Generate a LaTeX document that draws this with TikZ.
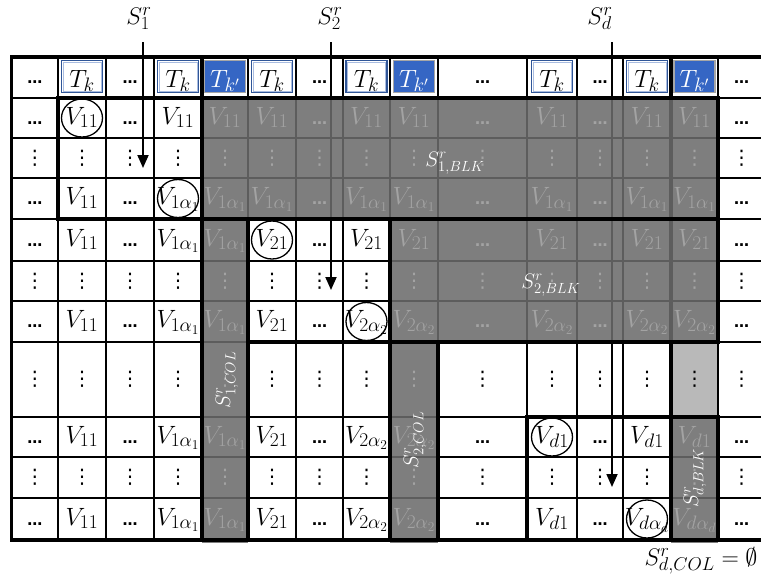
\RequirePackage{fix-cm}
\documentclass[tikz,border=0pt]{standalone}
\usepackage{fontspec}
\newfontfamily\djv{DejaVu Sans}
\DeclareMathSizes{25}{25}{19.5}{13.5}
\DeclareMathSizes{24}{24}{18.5}{13}
\usetikzlibrary{arrows.meta,calc}
\definecolor{tkblue}{HTML}{2F5597}
\definecolor{tkinner}{HTML}{A9BCE0}
\definecolor{tkfill}{HTML}{3566C4}
\definecolor{tkgray}{HTML}{A6A6A6}
\definecolor{ovl}{gray}{0.42}
\definecolor{gtext}{HTML}{A3A3A3}
\definecolor{lgray}{HTML}{B9B9B9}
\newcommand\hd{{\djv\bfseries\fontsize{15}{15}\selectfont …}}
\newcommand\vd{{\djv\fontsize{20}{20}\selectfont ⋮}}
\newcommand\txd{\hd}
\newcommand\txv{\vd}
\newcommand\txA{$V_{11}$}
\newcommand\txB{$V_{1\alpha_1}$}
\newcommand\txC{$V_{21}$}
\newcommand\txD{$V_{2\alpha_2}$}
\newcommand\txE{$V_{d1}$}
\newcommand\txF{$V_{d\alpha_d}$}
\def\XS{{11.5,58,106,154,202,248,296,343,390,438,527,577,623,671,718,765}}
\def\YS{{57,98,138,178,219,261,301,342,417,457,498,540}}
\def\LstA{d/0,A/2,d/0,A/0,A/1,A/1,d/1,A/1,A/1,d/1,A/1,d/1,A/1,A/1,d/0}
\def\LstB{v/0,v/0,v/0,v/0,v/1,v/1,v/1,v/1,v/1,v/1,v/1,v/1,v/1,v/1,v/0}
\def\LstC{d/0,A/0,d/0,B/2,B/1,B/1,d/1,B/1,B/1,d/1,B/1,d/1,B/1,B/1,d/0}
\def\LstD{d/0,A/0,d/0,B/0,B/1,C/2,d/0,C/0,C/1,d/1,C/1,d/1,C/1,C/1,d/0}
\def\LstE{v/0,v/0,v/0,v/0,v/1,v/0,v/0,v/0,v/1,v/1,v/1,v/1,v/1,v/1,v/0}
\def\LstF{d/0,A/0,d/0,B/0,B/1,C/0,d/0,D/2,D/1,d/1,D/1,d/1,D/1,D/1,d/0}
\def\LstG{v/0,v/0,v/0,v/0,v/1,v/0,v/0,v/0,v/1,v/0,v/0,v/0,v/0,v/0,v/0}
\def\LstH{d/0,A/0,d/0,B/0,B/1,C/0,d/0,D/0,D/1,d/0,E/2,d/0,E/0,E/1,d/0}
\def\LstI{v/0,v/0,v/0,v/0,v/1,v/0,v/0,v/0,v/1,v/0,v/0,v/0,v/0,v/1,v/0}
\def\LstJ{d/0,A/0,d/0,B/0,B/1,C/0,d/0,D/0,D/1,d/0,E/0,d/0,F/2,F/1,d/0}
\newcommand\colmid[1]{%
  \pgfmathtruncatemacro\cn{#1+1}%
  \pgfmathsetmacro\xa{\XS[#1]}%
  \pgfmathsetmacro\xb{\XS[\cn]}%
  \pgfmathsetmacro\cx{(\xa+\xb)/2}}
\newcommand\rowmid[1]{%
  \pgfmathtruncatemacro\rn{#1+1}%
  \pgfmathsetmacro\ya{\YS[#1]}%
  \pgfmathsetmacro\yb{\YS[\rn]}%
  \pgfmathsetmacro\cy{(\ya+\yb)/2}}
\newcommand\cellrow[3]{%
  \foreach \t/\k [count=\c from 0] in #2 {%
    \colmid{\c}\rowmid{#1}%
    \ifnum#3=1 \ifnum\k=1 \else
      \node[ctext] (n#1-\c) at (\cx,\cy+6) {\csname tx\t\endcsname};
      \ifnum\k=2 \draw[circ] (\cx,\cy) ellipse [x radius=20.5pt,y radius=19pt];\fi
    \fi\fi
    \ifnum#3=2 \ifnum\k=1
      \node[ctext,text=gtext] (n#1-\c) at (\cx,\cy+6) {\csname tx\t\endcsname};
    \fi\fi
  }}
\newcommand\allrows[1]{%
  \cellrow{1}{\LstA}{#1}\cellrow{2}{\LstB}{#1}\cellrow{3}{\LstC}{#1}%
  \cellrow{4}{\LstD}{#1}\cellrow{5}{\LstE}{#1}\cellrow{6}{\LstF}{#1}%
  \cellrow{7}{\LstG}{#1}\cellrow{8}{\LstH}{#1}\cellrow{9}{\LstI}{#1}%
  \cellrow{10}{\LstJ}{#1}}
\begin{document}
\begin{tikzpicture}[x=1pt,y=-1pt,
  gridline/.style={line width=1.1pt,black},
  bigline/.style={line width=3.8pt,black,line cap=rect},
  arr/.style={line width=1.8pt,-{Triangle[width=11pt,length=13pt]}},
  circ/.style={line width=1.3pt,black},
  ctext/.style={anchor=base,inner sep=0pt,font=\fontsize{25}{29}\selectfont},
  lab/.style={inner sep=0pt,font=\fontsize{24}{28}\selectfont},
  slab/.style={inner sep=0pt,text=white,font=\fontsize{21}{25}\selectfont},
  tkbox/.style={draw=tkblue,line width=1.6pt,fill=white,minimum width=41pt,minimum height=32pt,inner sep=0pt},
  tkpbox/.style={draw=tkgray,line width=1.6pt,fill=tkfill,minimum width=41pt,minimum height=32pt,inner sep=0pt},
  ovfill/.style={fill=ovl,fill opacity=0.87}]
\useasboundingbox (0,0) rectangle (761,582);
\clip (0,0) rectangle (761,582);
\fill[white] (0,0) rectangle (761,582);
% light gray cell
\fill[lgray] (671,342) rectangle (718,417);
% thin grid
\foreach \y in {57,98,138,178,219,261,301,342,417,457,498,540}
  \draw[gridline] (11.5,\y) -- (765,\y);
\foreach \x in {11.5,58,106,154,202,248,296,343,390,438,527,577,623,671,718,765}
  \draw[gridline] (\x,57) -- (\x,540);
% thick line that runs under the gray block
\draw[bigline] (671,98) -- (671,342);
% arrows
\coordinate (a1t) at (143,42); \coordinate (a1h) at (143,168);
\coordinate (a2t) at (331,42); \coordinate (a2h) at (331,290);
\coordinate (adt) at (612,42); \coordinate (adh) at (612,487);
\draw[arr] (a1t) -- (a1h);
\draw[arr] (a2t) -- (a2h);
\draw[arr] (adt) -- (adh);
% header
\foreach \t [count=\c from 0] in {d,T,d,T,P,T,d,T,P,d,T,d,T,P,d} {
  \colmid{\c}
  \if\t d\node[ctext] (h\c) at (\cx,83) {\hd};\fi
  \if\t T\node[tkbox] (h\c) at (\cx,76.5) {};
    \draw[tkinner,line width=0.7pt] ($(h\c.south west)+(2.2,-2.2)$) rectangle ($(h\c.north east)+(-2.2,2.2)$);
    \node[ctext] (ht\c) at (\cx,87) {$T_k$};\fi
  \if\t P\node[tkpbox] (h\c) at (\cx,76.5) {};
    \node[ctext,text=white] (ht\c) at (\cx,87) {$T_{k'}$};\fi
}
% cell texts, first pass
\allrows{1}
% gray regions
\fill[ovfill] (202,98) rectangle (718,219);
\fill[ovfill] (390,219) rectangle (718,342);
\fill[ovfill] (202,219) rectangle (248,543);
\fill[ovfill] (390,342) rectangle (438,543);
\fill[ovfill] (671,417) rectangle (718,543);
% gray texts
\allrows{2}
% thick borders
\draw[bigline] (11.5,57) -- (765,57);
\draw[bigline] (11.5,57) -- (11.5,540);
\draw[bigline] (11.5,540) -- (765,540);
\draw[bigline] (58,98) -- (718,98);
\draw[bigline] (58,98) -- (58,219);
\draw[bigline] (58,219) -- (718,219);
\draw[bigline] (718,98) -- (718,342);
\draw[bigline] (202,57) -- (202,540);
\draw[bigline] (248,219) -- (248,540);
\draw[bigline] (248,342) -- (718,342);
\draw[bigline] (390,219) -- (390,540);
\draw[bigline] (438,342) -- (438,540);
\draw[bigline] (671,57) -- (671,98);
\draw[bigline] (671,342) -- (671,540);
\draw[bigline] (527,417) -- (718,417);
\draw[bigline] (527,417) -- (527,540);
\draw[bigline] (718,417) -- (718,540);
% labels
\node[lab,anchor=base] (s1) at (139,24) {$S_1^r$};
\node[lab,anchor=base] (s2) at (330,24) {$S_2^r$};
\node[lab,anchor=base] (sd) at (600,24) {$S_d^r$};
\node[slab,anchor=base] (b1) at (455,166) {$S^r_{1,BLK}$};
\node[slab,anchor=base] (b2) at (551,288) {$S^r_{2,BLK}$};
\node[slab,rotate=90] (c1) at (227,380) {$S^r_{1,COL}$};
\node[slab,rotate=90] (c2) at (415,440) {$S^r_{2,COL}$};
\node[slab,rotate=90] (db) at (695,478) {$S^r_{d,BLK}$};
\node[lab,anchor=base] (dc) at (701,565) {$S^r_{d,COL}=\emptyset$};
\end{tikzpicture}
\end{document}
